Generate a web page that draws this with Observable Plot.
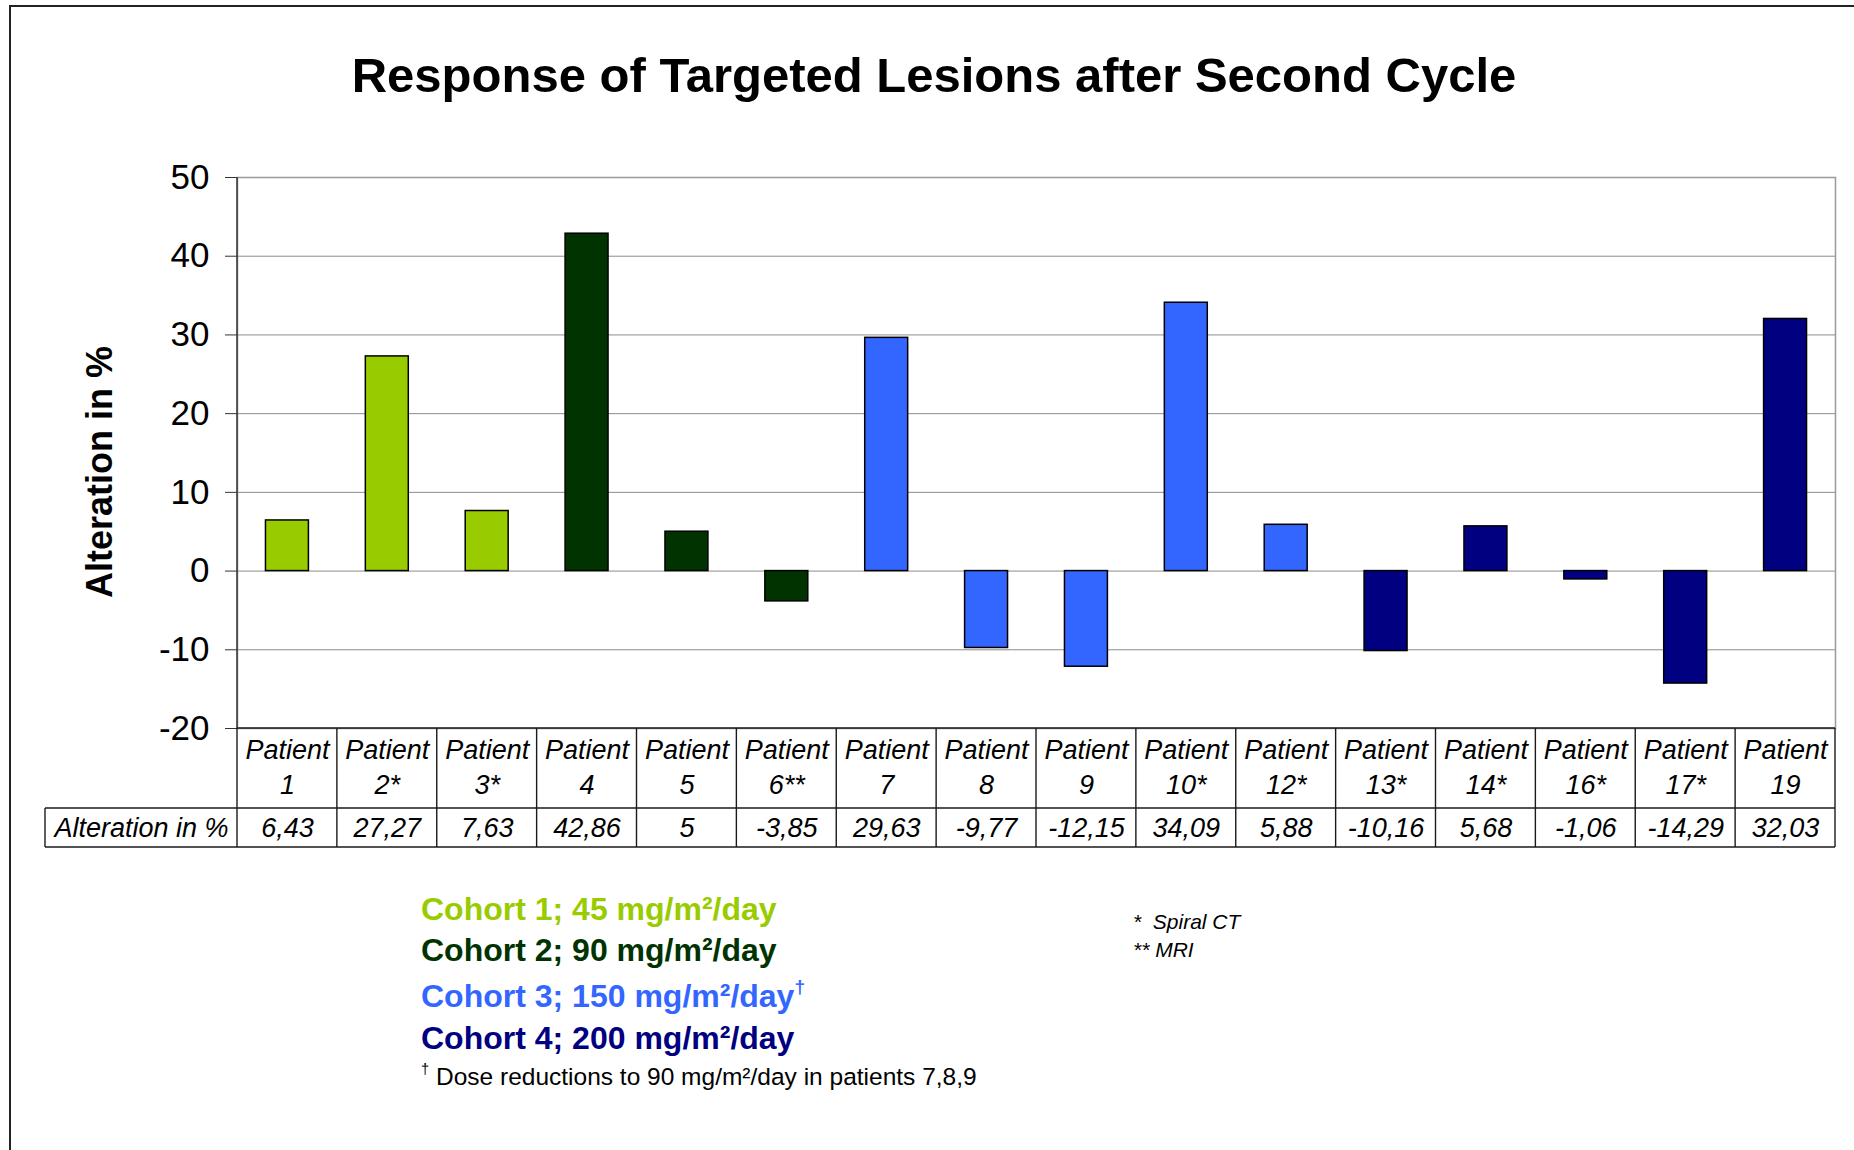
<!DOCTYPE html>
<html>
<head>
<meta charset="utf-8">
<script src="https://cdn.jsdelivr.net/npm/d3@7"></script>
<script src="https://cdn.jsdelivr.net/npm/@observablehq/plot@0.6"></script>
<style>
  html, body { margin: 0; padding: 0; background: #fff; }
  body { width: 1854px; height: 1150px; position: relative; overflow: hidden;
         font-family: "Liberation Sans", Arial, Helvetica, sans-serif; color: #000; }
  #slideframe { position: absolute; left: 9px; top: 5px; width: 1900px; height: 1200px;
         border-left: 2px solid #222; border-top: 2px solid #222; box-sizing: border-box; }
  #title { position: absolute; left: 0; width: 1868px; top: 51px; text-align: center;
         font-size: 49px; font-weight: bold; line-height: 1; white-space: nowrap; }
  #chart { position: absolute; left: 0; top: 0; }
  .leg { position: absolute; left: 421px; font-size: 32px; font-weight: bold; line-height: 1; white-space: nowrap; }
  .leg sup, .foot sup { font-size: 60%; vertical-align: 0; position: relative; top: -0.75em; }
  .foot { position: absolute; left: 421px; font-size: 24.5px; line-height: 1; white-space: nowrap; }
  .note { position: absolute; left: 1133px; font-size: 21px; font-style: italic; line-height: 1; white-space: nowrap; }
</style>
</head>
<body>
<div id="slideframe"></div>
<div id="chart"></div>
<div id="title"></div>
<div id="legend"></div>
<script>
// ---- data ----
const patients = ["1", "2*", "3*", "4", "5", "6**", "7", "8", "9", "10*", "12*", "13*", "14*", "16*", "17*", "19"];
const values = [6.43, 27.27, 7.63, 42.86, 5, -3.85, 29.63, -9.77, -12.15, 34.09, 5.88, -10.16, 5.68, -1.06, -14.29, 32.03];
const cohortOf = [1, 1, 1, 2, 2, 2, 3, 3, 3, 3, 3, 4, 4, 4, 4, 4];
const cohortNames = ["Cohort 1", "Cohort 2", "Cohort 3", "Cohort 4"];
const cohortDoses = ["45", "90", "150", "200"];
const cohortColors = ["#99CC00", "#003300", "#3366FF", "#000080"];
const yTicks = [-20, -10, 0, 10, 20, 30, 40, 50];
const yLabel = "Alteration in %";
const rowLabel = "Alteration in %";
const titleText = "Response of Targeted Lesions after Second Cycle";
const footnote = "Dose reductions to 90 mg/m²/day in patients 7,8,9";
const notes = ["*\u00a0\u00a0Spiral CT", "**\u00a0MRI"];

const data = patients.map((p, i) => ({patient: p, value: values[i], cohort: cohortNames[cohortOf[i] - 1]}));

// ---- layout ----
const W = 1854, H = 870;
const mL = 237, mR = 19, mT = 177, mB = 142;
const headerRowH = 80, valueRowH = 39, tableLeft = 45;

function tableGrid(index, scales, vals, dims) {
  const x = scales.x;
  const bw = typeof x.bandwidth === "function" ? x.bandwidth() : x.bandwidth;
  const step = typeof x.step === "function" ? x.step() : (dims.width - dims.marginLeft - dims.marginRight) / patients.length;
  const left = dims.marginLeft, right = dims.width - dims.marginRight;
  const top = dims.marginTop, bottom = dims.height - dims.marginBottom;
  const r1 = bottom + headerRowH, r2 = r1 + valueRowH;
  const bounds = patients.map(p => x(p) - (step - bw) / 2);
  bounds.push(right);
  const g = d3.create("svg:g").attr("fill", "none");
  g.append("line").attr("x1", left).attr("x2", left).attr("y1", top).attr("y2", bottom)
    .attr("stroke", "#333").attr("stroke-width", 1.5);
  const t = g.append("g").attr("stroke", "#1a1a1a").attr("stroke-width", 1.4);
  t.append("line").attr("x1", left).attr("x2", right).attr("y1", bottom).attr("y2", bottom);
  t.append("line").attr("x1", tableLeft).attr("x2", right).attr("y1", r1).attr("y2", r1);
  t.append("line").attr("x1", tableLeft).attr("x2", right).attr("y1", r2).attr("y2", r2);
  t.append("line").attr("x1", tableLeft).attr("x2", tableLeft).attr("y1", r1).attr("y2", r2);
  for (const b of bounds) {
    t.append("line").attr("x1", b).attr("x2", b).attr("y1", bottom).attr("y2", r2);
  }
  return g.node();
}

const chart = Plot.plot({
  width: W, height: H,
  marginLeft: mL, marginRight: mR, marginTop: mT, marginBottom: mB,
  style: {fontFamily: '"Liberation Sans", Arial, Helvetica, sans-serif', background: "transparent", color: "#000"},
  x: {domain: patients, paddingInner: 0.57, paddingOuter: 0.285, round: false, axis: null},
  y: {domain: [-20, 50], axis: null},
  color: {domain: cohortNames, range: cohortColors},
  marks: [
    Plot.frame({stroke: "#9a9a9a", strokeWidth: 1.5}),
    Plot.ruleY(yTicks.filter(t => t > -20 && t < 50), {stroke: "#8c8c8c", strokeWidth: 1}),
    Plot.barY(data, {x: "patient", y: "value", fill: "cohort", stroke: "#000", strokeWidth: 1.5}),
    Plot.axisY({ticks: yTicks, label: null, tickSize: 12, tickPadding: 16, fontSize: 35, tickFormat: d => String(d), stroke: "#333"}),
    Plot.text(data, {x: "patient", text: d => "Patient\n" + d.patient, frameAnchor: "bottom", dy: 37,
      lineAnchor: "middle", lineHeight: 1.28, fontSize: 27, fontStyle: "italic"}),
    Plot.text(data, {x: "patient", text: d => String(d.value).replace(".", ","), frameAnchor: "bottom", dy: 100,
      lineAnchor: "middle", fontSize: 27, fontStyle: "italic"}),
    Plot.text([rowLabel], {text: d => d, frameAnchor: "bottom-left", textAnchor: "middle", lineAnchor: "middle",
      dx: -96, dy: 100, fontSize: 27, fontStyle: "italic"}),
    Plot.text([yLabel], {text: d => d, frameAnchor: "left", textAnchor: "middle", lineAnchor: "middle",
      rotate: -90, dx: -137, dy: 19, fontSize: 36, fontWeight: "bold"}),
    tableGrid
  ]
});
document.getElementById("chart").appendChild(chart);
document.getElementById("title").textContent = titleText;

// ---- legend ----
const legend = document.getElementById("legend");
const legTops = [893, 934, 980, 1022];
cohortNames.forEach((c, i) => {
  const d = document.createElement("div");
  d.className = "leg";
  d.style.top = legTops[i] + "px";
  d.style.color = cohortColors[i];
  d.innerHTML = `${c}; ${cohortDoses[i]} mg/m²/day` + (i === 2 ? "<sup>†</sup>" : "");
  legend.appendChild(d);
});
const f = document.createElement("div");
f.className = "foot";
f.style.top = "1065px";
f.innerHTML = "<sup>†</sup>&nbsp;" + footnote;
legend.appendChild(f);
notes.forEach((n, i) => {
  const d = document.createElement("div");
  d.className = "note";
  d.style.top = (911 + i * 28) + "px";
  d.textContent = n;
  legend.appendChild(d);
});
</script>
</body>
</html>
